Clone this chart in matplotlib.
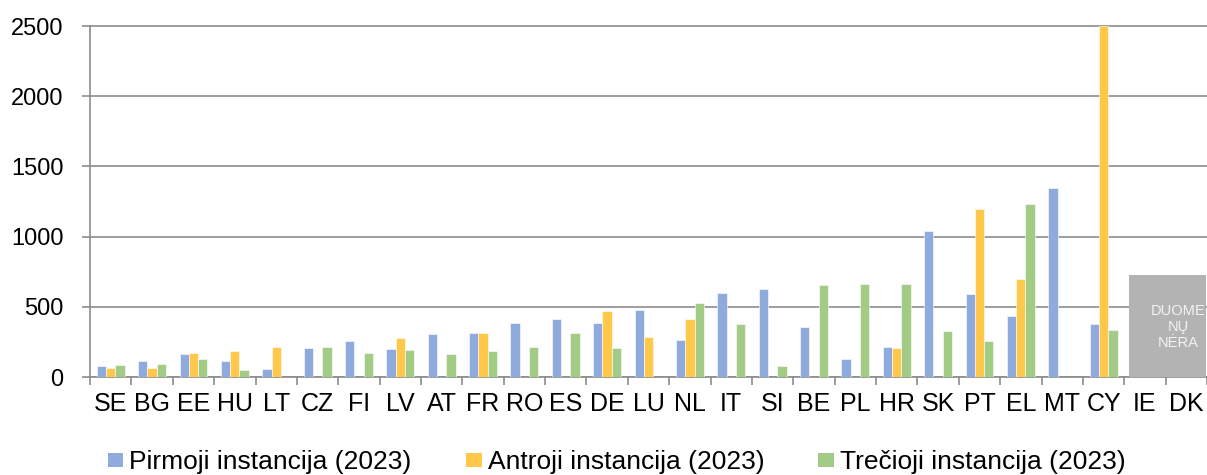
#!/usr/bin/env python3
"""Grouped bar chart: pending cases by instance per member state (2023)."""

import matplotlib

matplotlib.use("Agg")

import matplotlib.pyplot as plt
import numpy as np
from matplotlib.patches import Patch

countries = ["SE", "BG", "EE", "HU", "LT", "CZ", "FI", "LV", "AT", "FR", "RO", "ES", "DE",
             "LU", "NL", "IT", "SI", "BE", "PL", "HR", "SK", "PT", "EL", "MT", "CY", "IE", "DK"]

# nan = no bar shown
first_instance = [80, 112, 162, 112, 60, 204, 254, 197, 309, 316, 384, 413, 388,
                  480, 262, 595, 629, 355, 125, 217, 1040, 594, 436, 1348, 379, np.nan, np.nan]
second_instance = [65, 62, 171, 183, 212, np.nan, np.nan, 276, np.nan, 316, np.nan, np.nan, 468,
                   286, 415, np.nan, np.nan, np.nan, np.nan, 210, np.nan, 1198, 701, np.nan, 2500,
                   np.nan, np.nan]
third_instance = [85, 95, 128, 53, np.nan, 216, 169, 195, 167, 188, 211, 317, 204,
                  np.nan, 528, 379, 75, 655, 660, 663, 327, 256, 1232, np.nan, 334, np.nan, np.nan]

series_labels = ["Pirmoji instancija (2023)", "Antroji instancija (2023)", "Trečioji instancija (2023)"]
series_colors = ["#8FAADC", "#FFC84B", "#A2CB86"]

no_data_countries = ["IE", "DK"]
no_data_height = 726
no_data_text = "DUOME\nNŲ\nNĖRA"

y_ticks = [0, 500, 1000, 1500, 2000, 2500]

plt.rcParams["font.family"] = ["Liberation Sans", "DejaVu Sans"]

fig = plt.figure(figsize=(12.07, 4.75), dpi=100)
ax = fig.add_axes([0.0746, 0.2063, 0.9254, 0.7419])

x = np.arange(len(countries))
bar_w = 0.225
for k, (vals, color) in enumerate(zip([first_instance, second_instance, third_instance], series_colors)):
    ax.bar(x + (k - 1) * bar_w, vals, width=bar_w, color=color, edgecolor="white",
           linewidth=0.4, zorder=3)

# grey "no data" block over IE and DK
nd_idx = [countries.index(c) for c in no_data_countries]
nd_center = np.mean(nd_idx) + 0.05
ax.bar(nd_center, no_data_height, width=1.86, color="#B3B3B3", zorder=4)
ax.text(nd_center + 0.25, no_data_height * 0.49, no_data_text, ha="center", va="center",
        fontsize=10.5, color="#F2F2F2", linespacing=1.2, zorder=5)

ax.set_xlim(-0.5, len(countries) - 0.5)
ax.set_ylim(0, 2510)
ax.set_yticks(y_ticks)
ax.set_yticklabels([str(t) for t in y_ticks], fontsize=17)
ax.set_xticks(x)
ax.set_xticklabels(countries, fontsize=18)
ax.set_xticks(np.arange(len(countries) + 1) - 0.5, minor=True)

ax.tick_params(axis="x", which="major", length=0, pad=11)
ax.tick_params(axis="x", which="minor", length=6, width=1.2, color="#8C8C8C")
ax.tick_params(axis="y", length=6, width=1.2, color="#8C8C8C", pad=13)

ax.grid(axis="y", color="#8C8C8C", linewidth=1.2, zorder=1)
for side in ["top", "right"]:
    ax.spines[side].set_visible(False)
for side in ["left", "bottom"]:
    ax.spines[side].set_color("#8C8C8C")
    ax.spines[side].set_linewidth(1.2)
ax.spines["left"].set_bounds(0, 2500)

handles = [Patch(facecolor=c, edgecolor="none") for c in series_colors]
fig.legend(handles, series_labels, loc="center", bbox_to_anchor=(0.511, 0.027), ncol=3,
           frameon=False, fontsize=19, handlelength=0.6, handleheight=0.45,
           handletextpad=0.23, columnspacing=2.05, borderaxespad=0, borderpad=0)

fig.savefig("out.png", dpi=100)
plt.close(fig)
